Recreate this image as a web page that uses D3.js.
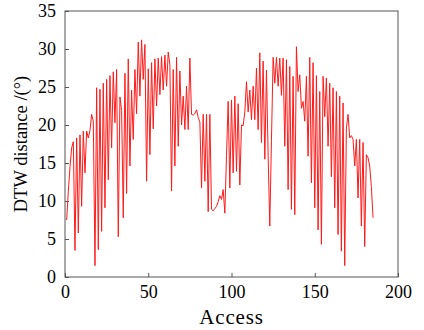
<!DOCTYPE html>
<html>
<head>
<meta charset="utf-8">
<script src="https://cdn.jsdelivr.net/npm/d3@7"></script>
<style>
  body { margin: 0; background: #fff; }
  svg { display: block; }
  .tick text { font-family: "Liberation Serif", "DejaVu Serif", serif; font-size: 18px; fill: #000; }
</style>
</head>
<body>
<svg id="chart" width="424" height="330"></svg>
<script>
// DTW distance per access (access index starts at 1)
const dtw = [
  7.5, 11.3, 14.5, 17.0, 17.8, 3.5, 18.3, 5.8, 18.7, 9.3,
  19.2, 13.7, 19.2, 18.3, 19.3, 21.4, 20.5, 1.5, 24.9, 3.6,
  24.7, 6.0, 25.5, 9.1, 26.0, 12.8, 26.5, 17.0, 27.0, 20.3,
  27.3, 5.3, 23.7, 21.9, 7.8, 26.8, 11.0, 28.7, 14.6, 24.6,
  18.1, 27.3, 21.5, 30.9, 23.8, 31.2, 26.0, 30.6, 12.6, 27.4,
  16.1, 28.2, 19.5, 28.7, 22.5, 28.8, 24.0, 29.0, 24.6, 29.2,
  25.1, 29.6, 27.9, 11.3, 27.3, 14.6, 28.9, 17.2, 27.1, 20.0,
  23.8, 19.4, 25.1, 19.4, 28.8, 21.4, 21.3, 21.5, 22.0, 21.0,
  20.4, 11.7, 21.4, 12.6, 21.4, 8.6, 21.4, 8.9, 8.7, 9.0,
  9.3, 9.9, 10.7, 10.2, 11.5, 8.4, 16.0, 23.1, 11.7, 23.3,
  13.7, 23.8, 13.9, 22.8, 12.1, 20.0, 19.9, 21.7, 25.7, 21.7,
  24.6, 20.7, 25.1, 20.7, 27.5, 19.4, 29.5, 17.7, 28.4, 15.5,
  27.2, 16.0, 6.7, 18.0, 28.9, 25.5, 28.9, 25.1, 28.8, 23.9,
  28.8, 17.2, 28.6, 11.5, 27.7, 8.9, 26.4, 8.2, 30.3, 24.4,
  26.6, 22.2, 23.1, 20.5, 26.4, 15.9, 28.9, 12.4, 28.2, 9.1,
  26.5, 6.2, 24.4, 4.3, 26.4, 21.1, 26.2, 17.2, 25.5, 13.2,
  24.9, 9.1, 24.4, 5.6, 23.8, 3.4, 22.9, 1.5, 19.6, 21.4,
  18.3, 18.6, 18.1, 14.6, 18.1, 10.4, 18.1, 6.7, 17.7, 4.0,
  16.1, 15.7, 14.6, 11.9, 7.8
];
const access = dtw.map((_, i) => i + 1);

const xTicks = [0, 50, 100, 150, 200];
const yTicks = [0, 5, 10, 15, 20, 25, 30, 35];
const xLabel = 'Access';
const yLabel = 'DTW distance /(°)';

const margin = { top: 11, right: 26, bottom: 53, left: 65 };
const width = 424, height = 330;
const innerW = width - margin.left - margin.right;
const innerH = height - margin.top - margin.bottom;

const svg = d3.select('#chart');
const g = svg.append('g').attr('transform', `translate(${margin.left},${margin.top})`);

const x = d3.scaleLinear().domain([0, 200]).range([0, innerW]);
const y = d3.scaleLinear().domain([0, 35]).range([innerH, 0]);

// axes with inward ticks
const xAxis = g.append('g')
  .attr('transform', `translate(0,${innerH})`)
  .call(d3.axisBottom(x).tickValues(xTicks).tickSizeInner(-4).tickSizeOuter(0).tickPadding(8));

const yAxis = g.append('g')
  .call(d3.axisLeft(y).tickValues(yTicks).tickSizeInner(-4).tickSizeOuter(0).tickPadding(9));

[xAxis, yAxis].forEach(a => {
  a.select('.domain').remove();
  a.selectAll('.tick line').attr('stroke', '#555');
});

// frame
g.append('rect')
  .attr('width', innerW)
  .attr('height', innerH)
  .attr('fill', 'none')
  .attr('stroke', '#555')
  .attr('stroke-width', 1);

const line = d3.line()
  .x((d, i) => x(access[i]))
  .y(d => y(d));

g.append('path')
  .datum(dtw)
  .attr('fill', 'none')
  .attr('stroke', '#ff1a1a')
  .attr('stroke-width', 1)
  .attr('stroke-linejoin', 'round')
  .attr('d', line);

svg.append('text')
  .attr('x', margin.left + innerW / 2)
  .attr('y', 324)
  .attr('text-anchor', 'middle')
  .attr('font-family', '"Liberation Serif", "DejaVu Serif", serif')
  .attr('font-size', 21)
  .attr('letter-spacing', 0.8)
  .text(xLabel);

svg.append('text')
  .attr('transform', `translate(27,${margin.top + innerH / 2}) rotate(-90)`)
  .attr('text-anchor', 'middle')
  .attr('font-family', '"Liberation Serif", "DejaVu Serif", serif')
  .attr('font-size', 18.5)
  .text(yLabel);
</script>
</body>
</html>
